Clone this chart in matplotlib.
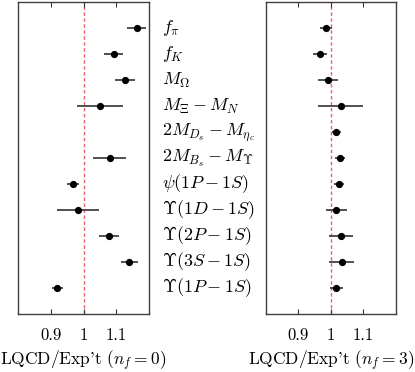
import matplotlib
matplotlib.use("Agg")
import matplotlib.pyplot as plt
import numpy as np

plt.rcParams['mathtext.fontset'] = 'cm'
plt.rcParams['font.family'] = ['cmr10', 'DejaVu Serif']
plt.rcParams['axes.unicode_minus'] = False

labels = [r'$f_\pi$', r'$f_K$', r'$M_\Omega$', r'$M_\Xi - M_N$',
          r'$2M_{D_s} - M_{\eta_c}$', r'$2M_{B_s} - M_\Upsilon$',
          r'$\psi(1P-1S)$', r'$\Upsilon(1D-1S)$', r'$\Upsilon(2P-1S)$',
          r'$\Upsilon(3S-1S)$', r'$\Upsilon(1P-1S)$']

nf0_val = [1.162, 1.092, 1.126, 1.051, np.nan, 1.080, 0.968, 0.983, 1.078, 1.140, 0.920]
nf0_err = [0.030, 0.030, 0.030, 0.070, np.nan, 0.050, 0.017, 0.065, 0.030, 0.027, 0.016]

nf3_val = [0.985, 0.967, 0.992, 1.030, 1.017, 1.028, 1.025, 1.017, 1.032, 1.033, 1.017]
nf3_err = [0.018, 0.021, 0.031, 0.070, 0.015, 0.016, 0.015, 0.032, 0.037, 0.038, 0.020]

xticks = [0.9, 1.0, 1.1]
xticklabels = ['0.9', '1', '1.1']
xlabels = ["LQCD/Exp't " + r'$(n_f=0)$', "LQCD/Exp't " + r'$(n_f=3)$']

fig = plt.figure(figsize=(4.15, 3.72), dpi=100)
ax1 = fig.add_axes([18/415, 1-314/372, 131/415, 312/372])
ax2 = fig.add_axes([265.7/415, 1-314/372, 130.3/415, 312/372])

ypos = np.arange(1, len(labels)+1)

for ax, vals, errs, xl in [(ax1, nf0_val, nf0_err, xlabels[0]),
                           (ax2, nf3_val, nf3_err, xlabels[1])]:
    ax.axvline(1.0, color='#e8474c', ls=(0, (2.5, 1.8)), lw=1.0, alpha=0.85, zorder=1)
    ax.errorbar(vals, ypos, xerr=errs, fmt='o', color='black', ms=4.2,
                ecolor='#333333', elinewidth=1.2, capsize=0, zorder=3)
    ax.set_xlim(0.8, 1.2)
    ax.set_ylim(12, 0)
    ax.set_yticks([])
    ax.set_xticks(xticks)
    ax.set_xticklabels(xticklabels, fontsize=12)
    ax.tick_params(axis='x', direction='in', length=3.5, width=0.8, top=True,
                   pad=10, color='#333333')
    for s in ax.spines.values():
        s.set_color('#404040')
        s.set_linewidth(1.0)
    ax.set_xlabel(xl, fontsize=12.5, labelpad=4)

for y, lab in zip(ypos, labels):
    ax1.annotate(lab, xy=(1.0, y), xycoords=('axes fraction', 'data'),
                 xytext=(12.5, 0), textcoords='offset pixels',
                 fontsize=13, va='center', ha='left', annotation_clip=False)

fig.savefig('out.png', dpi=100)
